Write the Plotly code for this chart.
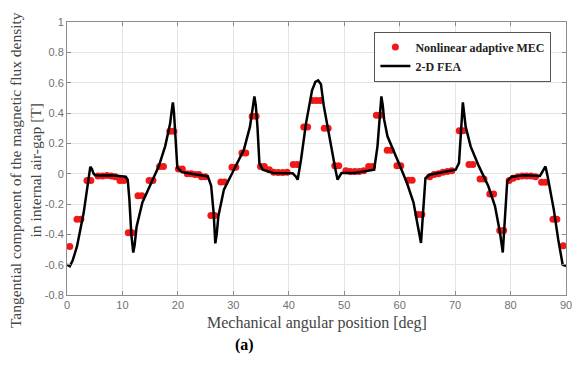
import plotly.graph_objects as go

# 2-D FEA curve (deg, T)
fea_deg = [0.0, 0.5, 1.0, 1.8, 3.0, 3.7, 4.0, 4.2, 4.5, 4.8, 5.1, 6.0, 8.0, 10.0, 10.6, 10.95,
           11.25, 11.6, 11.95, 12.2, 12.55, 13.6, 15.4, 16.55, 17.7, 18.6, 18.9, 19.1, 19.3,
           19.6, 19.9, 20.7, 23.0, 25.4, 26.0, 26.45, 26.75, 27.0, 27.3, 28.3, 30.1, 31.9,
           33.0, 33.6, 33.8, 34.05, 34.35, 34.7, 35.3, 37.2, 40.7, 41.3, 41.6, 42.2, 43.1,
           44.2, 44.8, 45.3, 45.8, 46.3, 47.5, 48.4, 48.8, 49.1, 49.5, 51.9, 55.4, 56.0,
           56.4, 56.7, 56.95, 57.2, 57.8, 59.0, 60.1, 61.3, 62.5, 63.3, 63.85, 64.25, 64.65,
           65.4, 68.0, 70.1, 70.7, 71.0, 71.4, 71.9, 72.8, 74.3, 76.0, 77.2, 78.1, 78.6,
           79.0, 79.4, 80.2, 82.5, 85.3, 85.9, 86.3, 86.7, 87.8, 88.6, 89.4, 90.0]
fea_b = [-0.60, -0.61, -0.575, -0.48, -0.26, -0.08, 0.02, 0.045, 0.03, 0.0, -0.01, -0.012,
         -0.01, -0.015, -0.02, -0.04, -0.17, -0.40, -0.52, -0.47, -0.35, -0.19, -0.05, 0.048,
         0.18, 0.33, 0.42, 0.47, 0.40, 0.18, 0.04, 0.01, -0.005, -0.018, -0.08, -0.26, -0.46,
         -0.40, -0.28, -0.105, 0.026, 0.158, 0.31, 0.45, 0.51, 0.45, 0.31, 0.07, 0.026, 0.004,
         0.002, -0.02, -0.04, 0.09, 0.33, 0.55, 0.605, 0.615, 0.59, 0.45, 0.2, 0.03, -0.04,
         -0.02, 0.004, 0.004, 0.026, 0.18, 0.38, 0.51, 0.45, 0.356, 0.246, 0.136, 0.048,
         -0.06, -0.19, -0.35, -0.457, -0.24, -0.03, -0.007, 0.01, 0.026, 0.07, 0.27, 0.47,
         0.31, 0.18, 0.048, -0.083, -0.215, -0.39, -0.52, -0.30, -0.05, -0.02, -0.01, -0.015,
         0.026, 0.048, -0.02, -0.237, -0.435, -0.60, -0.61]

# Nonlinear adaptive MEC samples (deg, T)
mec_deg = [0.5,
           1.8, 2.5, 3.6, 4.3,
           5.6, 6.4, 7.2, 8.0, 8.7,
           9.55, 10.25, 11.05, 11.75, 12.8, 13.5, 14.8, 15.5, 16.7, 17.4,
           18.55, 19.25, 20.1, 20.8, 21.7, 22.4, 23.1, 23.8, 24.25, 24.95,
           25.95, 26.65, 27.75, 28.45, 29.75, 30.45, 31.55, 32.25, 33.4, 34.1,
           34.9, 35.6, 36.5, 37.3, 38.1, 38.9, 39.7, 40.8, 41.5,
           42.7, 43.4, 44.3, 45.0, 45.7, 46.4, 47.1, 48.3, 49.0,
           50.3, 51.1, 51.9, 52.7, 53.5, 54.4, 55.1,
           55.8, 56.5, 57.75, 58.45, 59.5, 60.2, 61.55, 62.25, 63.3, 64.0,
           65.4, 66.2, 67.0, 67.8, 68.6, 69.4,
           70.75, 71.45, 72.5, 73.2, 74.5, 75.2, 76.25, 76.95, 78.05, 78.75,
           79.75, 80.45, 81.3, 82.1, 82.9, 83.7, 84.5, 85.6, 86.3,
           87.65, 88.35, 89.5]
mec_b = [-0.48,
         -0.30, -0.30, -0.045, -0.045,
         -0.015, -0.015, -0.012, -0.015, -0.02,
         -0.045, -0.045, -0.39, -0.39, -0.145, -0.145, -0.045, -0.045, 0.048, 0.048,
         0.28, 0.28, 0.03, 0.03, 0.0, 0.0, -0.005, -0.005, -0.02, -0.02,
         -0.275, -0.275, -0.055, -0.055, 0.042, 0.042, 0.136, 0.136, 0.378, 0.378,
         0.048, 0.048, 0.026, 0.01, 0.008, 0.008, 0.01, 0.06, 0.06,
         0.308, 0.308, 0.483, 0.483, 0.483, 0.30, 0.30, 0.053, 0.053,
         0.02, 0.015, 0.015, 0.015, 0.02, 0.048, 0.048,
         0.385, 0.385, 0.154, 0.154, 0.053, 0.053, -0.044, -0.044, -0.27, -0.27,
         -0.02, -0.005, 0.0, 0.01, 0.015, 0.02,
         0.283, 0.283, 0.06, 0.06, -0.035, -0.035, -0.134, -0.134, -0.374, -0.374,
         -0.045, -0.03, -0.02, -0.015, -0.015, -0.015, -0.02, -0.057, -0.057,
         -0.30, -0.30, -0.476]

x_ticks = [0, 10, 20, 30, 40, 50, 60, 70, 80, 90]
y_ticks = [-0.8, -0.6, -0.4, -0.2, 0, 0.2, 0.4, 0.6, 0.8, 1]
y_tick_text = ["-0.8", "-0.6", "-0.4", "-0.2", "0", "0.2", "0.4", "0.6", "0.8", "1"]

serif = "Liberation Serif, Times New Roman, serif"
sans = "Liberation Sans, Arial, sans-serif"

fig = go.Figure()
fig.add_trace(go.Scatter(
    x=mec_deg, y=mec_b, mode="markers", name="<b>Nonlinear adaptive MEC</b>",
    marker=dict(color="#f01818", size=7, line=dict(width=0)),
))
fig.add_trace(go.Scatter(
    x=fea_deg, y=fea_b, mode="lines", name="<b>2-D FEA</b>",
    line=dict(color="black", width=2.5),
))

axis_common = dict(
    showgrid=True, gridcolor="#e4e4e4", gridwidth=1,
    zeroline=False, showline=True, linecolor="#8c8c8c", linewidth=1,
    mirror="ticks", ticks="inside", ticklen=4, tickcolor="#8c8c8c",
    tickfont=dict(family=sans, size=11, color="#707070"),
)

fig.update_layout(
    width=572, height=357,
    margin=dict(l=59, r=8, t=14, b=70),
    paper_bgcolor="white", plot_bgcolor="white",
    xaxis=dict(range=[0, 90], tickvals=x_ticks, **axis_common),
    yaxis=dict(range=[-0.8, 1], tickvals=y_ticks, ticktext=y_tick_text, **axis_common),
    showlegend=True,
    legend=dict(
        x=0.616, y=0.965, xanchor="left", yanchor="top",
        bgcolor="white", bordercolor="#555555", borderwidth=1,
        font=dict(family=serif, size=12, color="#222222"),
        tracegroupgap=0, itemwidth=30,
    ),
    annotations=[
        dict(text="Tangential component of the magnetic flux density<br>in internal air-gap [T]",
             xref="paper", yref="paper", x=-0.083, y=0.456, xanchor="center", yanchor="middle",
             textangle=-90, showarrow=False,
             font=dict(family=serif, size=15.5, color="#444444")),
        dict(text="Mechanical angular position [deg]", xref="paper", yref="paper",
             x=0.5, y=-0.103, xanchor="center", yanchor="middle", showarrow=False,
             font=dict(family=serif, size=16, color="#444444")),
        dict(text="<b>(a)</b>", xref="paper", yref="paper",
             x=0.355, y=-0.183, xanchor="center", yanchor="middle", showarrow=False,
             font=dict(family=serif, size=16, color="black")),
    ],
)

fig.write_html("out.html")
